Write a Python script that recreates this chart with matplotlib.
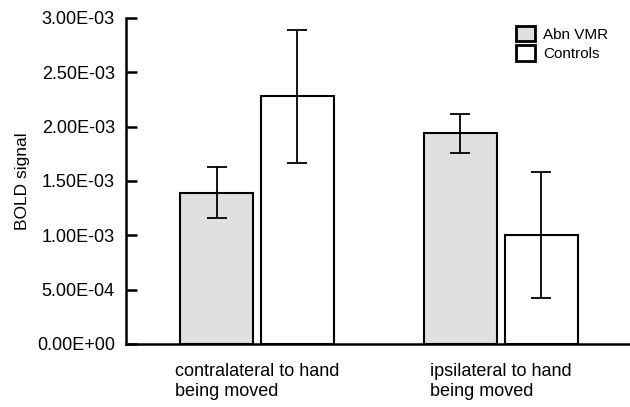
import matplotlib.pyplot as plt
import numpy as np

plt.rcParams['font.family'] = ['Liberation Sans', 'DejaVu Sans']

# data
groups = ['contralateral to hand\nbeing moved', 'ipsilateral to hand\nbeing moved']
series = ['Abn VMR', 'Controls']
abn_vals = [1.39e-3, 1.94e-3]
abn_err = [0.235e-3, 0.18e-3]
ctrl_vals = [2.28e-3, 1.00e-3]
ctrl_err = [0.61e-3, 0.58e-3]
yticks = [0, 5e-4, 1e-3, 1.5e-3, 2e-3, 2.5e-3, 3e-3]

fig = plt.figure(figsize=(6.3, 4.07), dpi=100)
ax = fig.add_axes([0.2, 0.1548, 0.8, 0.801])

x = np.arange(len(groups))
w = 0.3
off = 0.166
err_kw = dict(ecolor='black', elinewidth=1.3, capsize=7, capthick=1.3)
ax.bar(x - off, abn_vals, w, yerr=abn_err, color='#e0e0e0', edgecolor='black',
       linewidth=1.5, error_kw=err_kw, label=series[0])
ax.bar(x + off, ctrl_vals, w, yerr=ctrl_err, color='white', edgecolor='black',
       linewidth=1.5, error_kw=err_kw, label=series[1])

ax.set_xlim(-0.537, 1.529)
ax.set_ylim(0, 3e-3)
ax.set_yticks(yticks)
ax.set_yticklabels(['%.2E' % v for v in yticks], fontsize=13)
ax.tick_params(axis='y', direction='in', length=8, width=1.8, pad=8)
ax.set_xticks(x)
ax.set_xticklabels(groups, fontsize=13, multialignment='left')
ax.tick_params(axis='x', length=0, pad=14)
ax.set_ylabel('BOLD signal', fontsize=12.5, labelpad=5)

for s in ['top', 'right']:
    ax.spines[s].set_visible(False)
for s in ['left', 'bottom']:
    ax.spines[s].set_linewidth(1.8)

leg = ax.legend(loc='upper right', bbox_to_anchor=(0.975, 1.005), frameon=False,
                fontsize=11, handlelength=1.25, handleheight=1.2, handletextpad=0.5,
                labelspacing=0.25, borderaxespad=0.2)
for p in leg.get_patches():
    p.set_linewidth(2)

fig.savefig('out.png', dpi=100)
